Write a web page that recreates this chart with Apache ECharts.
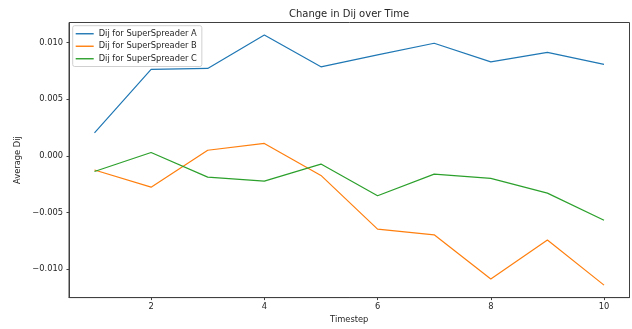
<!DOCTYPE html>
<html>
<head>
<meta charset="utf-8">
<script src="https://cdn.jsdelivr.net/npm/echarts@6/dist/echarts.min.js"></script>
<style>
html,body{margin:0;padding:0;background:#fff;}
#chart{width:632px;height:329px;}
</style>
</head>
<body>
<div id="chart"></div>
<script>
const timesteps = [1, 2, 3, 4, 5, 6, 7, 8, 9, 10];
const seriesA = [0.00202, 0.00763, 0.00771, 0.01066, 0.00785, 0.00890, 0.00993, 0.00829, 0.00913, 0.00806];
const seriesB = [-0.00125, -0.00277, 0.00049, 0.00109, -0.00173, -0.00647, -0.00697, -0.01087, -0.00743, -0.01141];
const seriesC = [-0.00139, 0.00029, -0.00188, -0.00223, -0.00073, -0.00353, -0.00162, -0.00199, -0.00329, -0.00569];
const seriesNames = ['Dij for SuperSpreader A', 'Dij for SuperSpreader B', 'Dij for SuperSpreader C'];
const xTicks = [2, 4, 6, 8, 10];
const yTicks = [-0.010, -0.005, 0.000, 0.005, 0.010];

const colors = ['#1f77b4', '#ff7f0e', '#2ca02c'];
const FONT = 'DejaVu Sans';
const TXT = '#262626';
const FS = 8.3;

function pairs(vals) { return timesteps.map((t, i) => [t, vals[i]]); }
function fmtY(v) {
  const s = Math.abs(v).toFixed(3);
  return (v < -1e-12 ? '\u2212' : '') + s;
}

const chart = echarts.init(document.getElementById('chart'), null, {renderer: 'canvas'});
chart.setOption({
  animation: false,
  backgroundColor: '#ffffff',
  color: colors,
  title: {
    text: 'Change in Dij over Time',
    left: 349,
    top: 8.5,
    textAlign: 'center',
    padding: 0,
    textStyle: {fontFamily: FONT, fontSize: 10, fontWeight: 'normal', color: TXT, lineHeight: 11}
  },
  grid: {left: 69, right: 2.5, top: 22.5, bottom: 27.3, containLabel: false,
         show: true, borderColor: '#404040', borderWidth: 1, backgroundColor: 'transparent'},
  legend: {
    orient: 'vertical',
    left: 72.7,
    top: 25.7,
    padding: [3.3, 5, 3, 3],
    itemGap: 3,
    itemWidth: 18,
    itemHeight: 9.5,
    backgroundColor: 'rgba(255,255,255,0.8)',
    borderColor: '#d0d0d0',
    borderWidth: 1,
    borderRadius: 2,
    textStyle: {fontFamily: FONT, fontSize: FS, color: TXT, lineHeight: 9.5},
    data: seriesNames.map(n => ({name: n, icon: 'path://M0,0 L18,0 L18,1.4 L0,1.4 Z'}))
  },
  xAxis: {
    type: 'value',
    min: 0.55,
    max: 10.45,
    name: 'Timestep',
    nameLocation: 'middle',
    nameGap: 16.5,
    nameTextStyle: {fontFamily: FONT, fontSize: FS, color: TXT},
    axisLine: {show: true, onZero: false, lineStyle: {color: '#404040', width: 1}},
    axisTick: {show: true, length: 2.5, inside: false, customValues: xTicks, lineStyle: {color: '#404040'}},
    axisLabel: {customValues: xTicks, margin: 5.5, fontFamily: FONT, fontSize: FS, color: TXT,
                formatter: v => String(v)},
    splitLine: {show: false}
  },
  yAxis: {
    type: 'value',
    min: -0.01251,
    max: 0.01176,
    name: 'Average Dij',
    nameLocation: 'middle',
    nameGap: 40.5,
    nameRotate: 90,
    nameTextStyle: {fontFamily: FONT, fontSize: FS, color: TXT},
    axisLine: {show: true, onZero: false, lineStyle: {color: '#404040', width: 1}},
    axisTick: {show: true, length: 2.5, inside: false, customValues: yTicks, lineStyle: {color: '#404040'}},
    axisLabel: {customValues: yTicks, margin: 6, fontFamily: FONT, fontSize: FS, color: TXT, formatter: fmtY},
    splitLine: {show: false}
  },
  series: [seriesA, seriesB, seriesC].map((vals, i) => ({
    name: seriesNames[i],
    type: 'line',
    data: pairs(vals),
    symbol: 'none',
    showSymbol: false,
    lineStyle: {color: colors[i], width: 1.2},
    itemStyle: {color: colors[i]}
  }))
});
</script>
</body>
</html>
